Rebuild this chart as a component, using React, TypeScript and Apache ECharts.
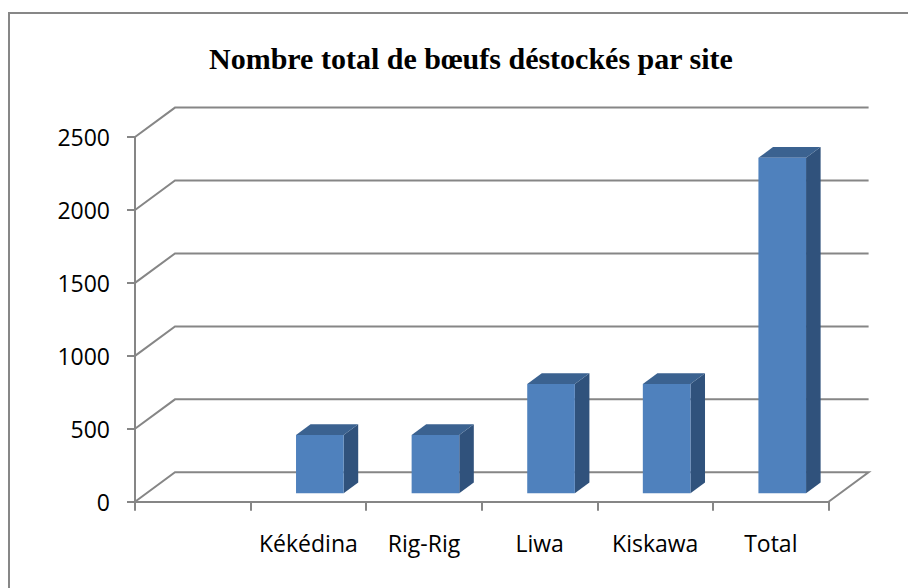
import React, { useEffect, useRef } from "react";
import * as echarts from "echarts";

const categories = ["", "Kékédina", "Rig-Rig", "Liwa", "Kiskawa", "Total"];
const values: (number | null)[] = [null, 400, 400, 750, 750, 2300];
const yTicks = [0, 500, 1000, 1500, 2000, 2500];
const titleText = "Nombre total de bœufs déstockés par site";

const DX = 40;
const DY = -29.4;
const D1 = 0.286;
const D2 = 0.65;
const BAR_W = 0.412;
const GRID_COLOR = "#868686";
const FRONT = "#4F81BD";
const TOP = "#3B6290";
const SIDE = "#30527C";

export default function App() {
  const ref = useRef<HTMLDivElement>(null);
  useEffect(() => {
    if (!ref.current) return;
    const chart = echarts.init(ref.current, null, { renderer: "svg" });
    const option: any = {
      animation: false,
      title: {
        text: titleText,
        left: 204,
        top: 38,
        textStyle: {
          fontFamily: "Liberation Serif",
          fontWeight: "bold",
          fontSize: 30,
          color: "#000",
        },
      },
      graphic: [
        {
          type: "rect",
          shape: { x: 9, y: 13, width: 1200, height: 1200 },
          style: { fill: "none", stroke: "#878787", lineWidth: 2 },
          silent: true,
        },
      ],
      grid: { left: 135, right: 79.4, top: 137, bottom: 86.3 },
      xAxis: {
        type: "category",
        data: categories,
        axisLine: { show: true, lineStyle: { color: GRID_COLOR, width: 2 } },
        axisTick: { show: true, length: 9, lineStyle: { color: GRID_COLOR, width: 2 } },
        axisLabel: {
          interval: 0,
          margin: 30,
          fontFamily: "Open Sans",
          fontSize: 23,
          color: "#000",
        },
      },
      yAxis: {
        type: "value",
        min: 0,
        max: 2500,
        interval: 500,
        splitLine: { show: false },
        axisLine: { show: true, lineStyle: { color: GRID_COLOR, width: 2 } },
        axisTick: { show: true, length: 8, lineStyle: { color: GRID_COLOR, width: 2 } },
        axisLabel: {
          margin: 25,
          fontFamily: "Open Sans",
          fontSize: 23,
          color: "#000",
          formatter: (v: number) => String(v),
        },
      },
      series: [
        {
          type: "custom",
          name: "grid",
          clip: false,
          silent: true,
          encode: { x: 0, y: 1 },
          data: yTicks.map((v) => [0, v]),
          z: 1,
          renderItem: (params: any, api: any) => {
            const cs = params.coordSys;
            const left = cs.x;
            const right = cs.x + cs.width;
            const v = api.value(1);
            const y = api.coord([0, v])[1];
            const pts: number[][] = [
              [left, y],
              [left + DX, y + DY],
              [right + DX, y + DY],
            ];
            if (v === 0) pts.push([right, y]);
            return {
              type: "polyline",
              shape: { points: pts },
              style: { stroke: GRID_COLOR, lineWidth: 2, fill: "none" },
            };
          },
        },
        {
          type: "custom",
          name: "bars",
          clip: false,
          encode: { x: 0, y: 1 },
          data: categories.map((c, i) => [i, values[i]]),
          z: 2,
          renderItem: (params: any, api: any) => {
            const v = api.value(1);
            if (v == null || isNaN(v)) return null;
            const cat = api.value(0);
            const top = api.coord([cat, v]);
            const base = api.coord([cat, 0]);
            const slot = api.size([1, 0])[0];
            const bw = slot * BAR_W;
            const fx = top[0] - bw / 2 + D1 * DX;
            const fyTop = top[1] + D1 * DY;
            const fyBot = base[1] + D1 * DY;
            const ddx = (D2 - D1) * DX;
            const ddy = (D2 - D1) * DY;
            return {
              type: "group",
              children: [
                {
                  type: "polygon",
                  shape: {
                    points: [
                      [fx + bw, fyBot],
                      [fx + bw, fyTop],
                      [fx + bw + ddx, fyTop + ddy],
                      [fx + bw + ddx, fyBot + ddy],
                    ],
                  },
                  style: { fill: SIDE },
                },
                {
                  type: "polygon",
                  shape: {
                    points: [
                      [fx, fyTop],
                      [fx + bw, fyTop],
                      [fx + bw + ddx, fyTop + ddy],
                      [fx + ddx, fyTop + ddy],
                    ],
                  },
                  style: { fill: TOP },
                },
                {
                  type: "rect",
                  shape: { x: fx, y: fyTop, width: bw, height: fyBot - fyTop },
                  style: { fill: FRONT },
                },
              ],
            };
          },
        },
      ],
    };
    chart.setOption(option);
    return () => chart.dispose();
  }, []);
  return (
    <div
      ref={ref}
      style={{ position: "fixed", left: 0, top: 0, width: 908, height: 588, background: "#fff" }}
    />
  );
}
